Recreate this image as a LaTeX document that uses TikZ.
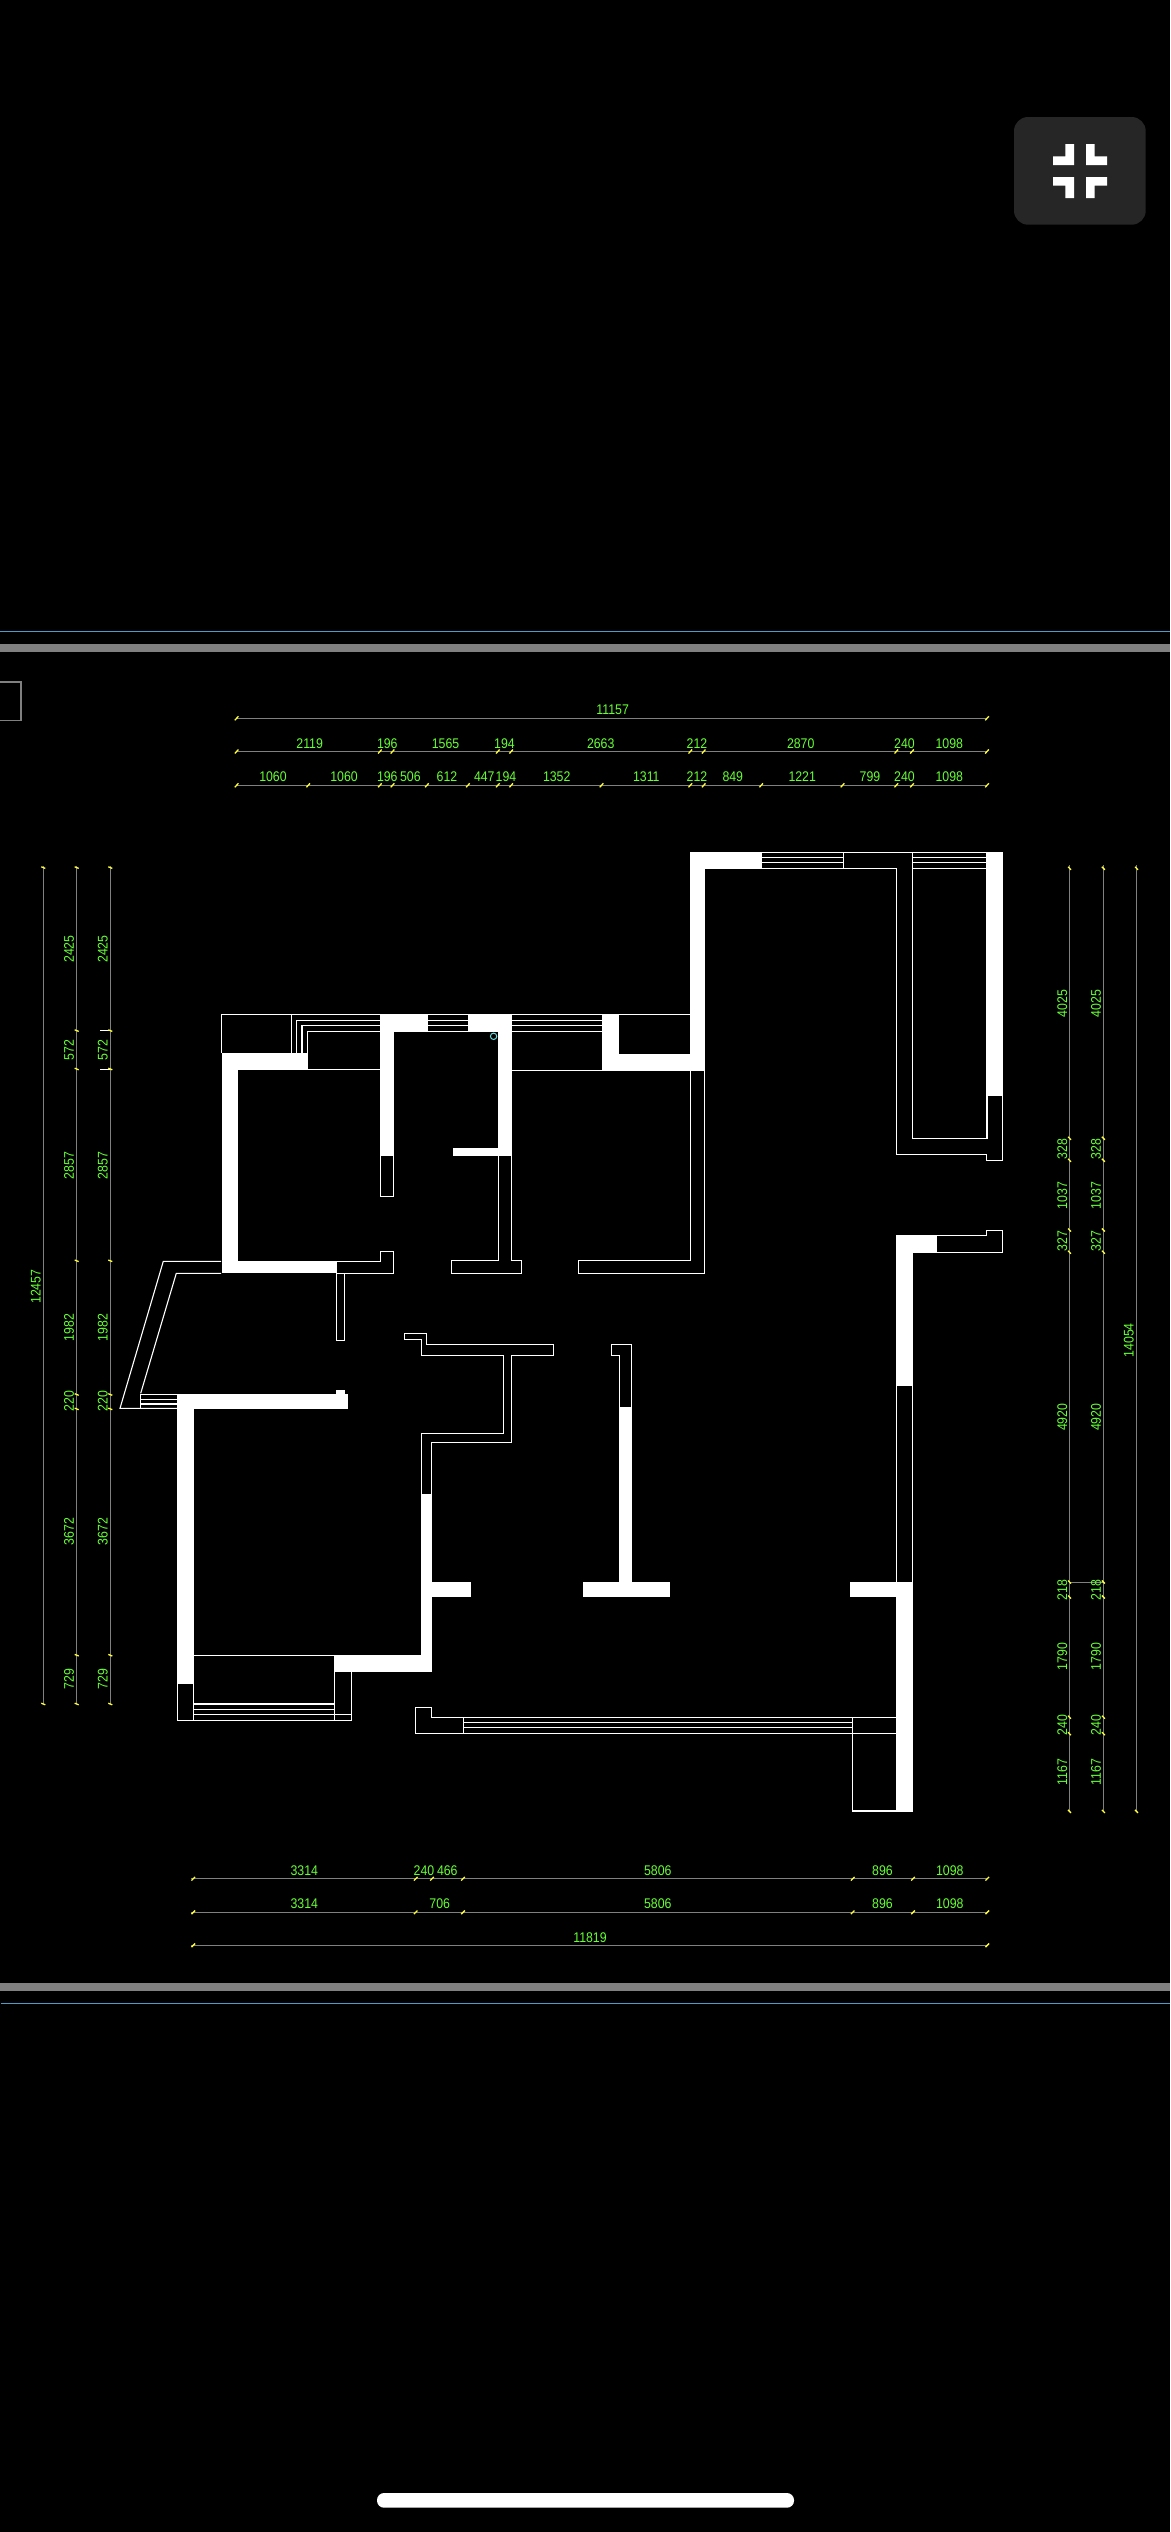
\documentclass[tikz,border=0pt]{standalone}
\usepackage{fontspec}
\newfontfamily\cadfont[FakeStretch=0.88]{Liberation Sans}
\definecolor{dimgrey}{HTML}{808080}
\definecolor{barblue}{HTML}{4F9BC8}
\definecolor{cadgreen}{HTML}{66FF33}
\definecolor{cadyellow}{HTML}{FFFF33}
\definecolor{btn}{HTML}{262626}
\definecolor{cadcyan}{HTML}{66DDDD}
\tikzset{
  wall/.style={fill=white,draw=none},
  ln/.style={draw=white,line width=1.1pt},
  dimln/.style={draw=dimgrey,line width=1.2pt},
  tickh/.style={draw=cadyellow,line width=1.3pt},
  dimtxt/.style={text=cadgreen,inner sep=0pt,font=\cadfont\fontsize{14}{15}\selectfont},
  dimtxtv/.style={dimtxt,rotate=90},
}
\begin{document}
\begin{tikzpicture}[x=1pt,y=-1pt]
\useasboundingbox (0,0) rectangle (1170,2532);
\fill[black] (0,0) rectangle (1170,2532);
% status button
\fill[btn,rounded corners=14pt] (1014,117) rectangle (1145.7,224.7);
\fill[white] (1065.3,144) -- (1074,144) -- (1074,165) -- (1053,165) -- (1053,156.3) -- (1065.3,156.3) -- cycle;
\fill[white] (1086,144) -- (1094.7,144) -- (1094.7,156.3) -- (1107,156.3) -- (1107,165) -- (1086,165) -- cycle;
\fill[white] (1053,177) -- (1074,177) -- (1074,198) -- (1065.3,198) -- (1065.3,185.7) -- (1053,185.7) -- cycle;
\fill[white] (1086,177) -- (1107,177) -- (1107,185.7) -- (1094.7,185.7) -- (1094.7,198) -- (1086,198) -- cycle;
% home indicator
\fill[white,rounded corners=7pt] (377,2493) rectangle (794,2507.7);
% frame bars
\draw[barblue,line width=1.2pt] (0,631.3) -- (1170,631.3);
\fill[dimgrey] (0,644) rectangle (1170,652);
\fill[dimgrey] (0,1983) rectangle (1170,1990.7);
\draw[barblue,line width=1.2pt] (1,2003.3) -- (1170,2003.3);
\draw[dimgrey,line width=1.1pt] (0,682) -- (21,682) -- (21,720.3) -- (0,720.3);
% ---------- white walls
\fill[wall] (221.8,1053) rectangle (307.9,1070);
\fill[wall] (221.8,1053) rectangle (237.9,1273.3);
\fill[wall] (221.8,1261) rectangle (337.1,1273.3);
\fill[wall] (380,1014.3) rectangle (393.9,1155.7);
\fill[wall] (380,1014.3) rectangle (427.5,1031.7);
\fill[wall] (467.9,1014.3) rectangle (512.1,1031.7);
\fill[wall] (497.9,1014.3) rectangle (512.1,1155.7);
\fill[wall] (452.9,1148) rectangle (512.1,1155.7);
\fill[wall] (602.1,1014.3) rectangle (618.6,1070);
\fill[wall] (602.1,1054) rectangle (705,1070.7);
\fill[wall] (690,852.3) rectangle (705,1070.7);
\fill[wall] (690,852.3) rectangle (761.7,868.7);
\fill[wall] (986,852.3) rectangle (1003,1096);
\fill[wall] (896,1235.3) rectangle (913,1385.8);
\fill[wall] (896,1235.3) rectangle (937,1252.7);
\fill[wall] (896,1582) rectangle (913,1812);
\fill[wall] (849.9,1582) rectangle (913,1597);
\fill[wall] (619.1,1406.9) rectangle (632,1582);
\fill[wall] (583,1582) rectangle (670.1,1597);
\fill[wall] (177,1394) rectangle (194,1683.7);
\fill[wall] (177,1394) rectangle (348,1409);
\fill[wall] (336,1390) rectangle (345,1394);
\fill[wall] (334,1655.3) rectangle (432,1672);
\fill[wall] (421.3,1494) rectangle (432,1672);
\fill[wall] (421.3,1582) rectangle (471,1597);
% ---------- thin lines: upper left block
\draw[ln] (221.8,1053) -- (221.8,1014.3) -- (380,1014.3);
\draw[ln] (291.8,1014.3) -- (291.8,1053);
\draw[ln] (296.8,1053) -- (296.8,1020.3) -- (380,1020.3);
\draw[ln] (302,1053) -- (302,1025.7) -- (380,1025.7);
\draw[ln] (307.9,1053) -- (307.9,1031.7) -- (380,1031.7);
\draw[ln] (307.9,1069.3) -- (380,1069.3);
\draw[ln] (427.5,1014.3) -- (467.9,1014.3) (427.5,1020.3) -- (467.9,1020.3) (427.5,1025.7) -- (467.9,1025.7) (427.5,1031.7) -- (467.9,1031.7);
\draw[ln] (512.1,1014.3) -- (602.1,1014.3) (512.1,1020.3) -- (602.1,1020.3) (512.1,1025.7) -- (602.1,1025.7) (512.1,1031.7) -- (602.1,1031.7);
\draw[ln] (512.1,1070.3) -- (602.1,1070.3);
\draw[ln] (618.6,1014.3) -- (690,1014.3);
\draw[ln] (380.4,1155.7) -- (380.4,1196.7) -- (393.6,1196.7) -- (393.6,1155.7);
\draw[ln] (690.7,1070.7) -- (690.7,1260.3) -- (578.2,1260.3) -- (578.2,1273.3) -- (704.3,1273.3) -- (704.3,1070.7);
\draw[ln] (498.2,1155.7) -- (498.2,1260.3) -- (451.8,1260.3) -- (451.8,1273.3) -- (521.8,1273.3) -- (521.8,1260.3) -- (511.4,1260.3) -- (511.4,1155.7);
\draw[ln] (337.1,1273.3) -- (393.6,1273.3) -- (393.6,1251.3) -- (380.4,1251.3) -- (380.4,1261.3) -- (337.1,1261.3);
\draw[ln] (336.8,1273.3) -- (336.8,1340.3) -- (344.6,1340.3) -- (344.6,1273.3);
% left stair
\draw[ln] (221,1261.3) -- (163.3,1261.3) -- (120,1408.3) -- (177,1408.3);
\draw[ln] (221,1273.3) -- (176.3,1273.3) -- (140.7,1393.3);
\draw[ln] (140.3,1394) -- (140.3,1408.3);
\draw[ln] (140.3,1394.3) -- (177,1394.3) (140.3,1399.3) -- (177,1399.3) (140.3,1404) -- (177,1404);
% middle passage
\draw[ln] (421.3,1494) -- (421.3,1433.3) -- (503.7,1433.3) -- (503.7,1355.5) -- (421.3,1355.5) -- (421.3,1339.3) -- (404.3,1339.3) -- (404.3,1333.3) -- (426.7,1333.3) -- (426.7,1344.3) -- (553.7,1344.3) -- (553.7,1355.5) -- (511.7,1355.5) -- (511.7,1442.3) -- (431.3,1442.3) -- (431.3,1494);
% T wall top
\draw[ln] (619.5,1406.9) -- (619.5,1355.2) -- (611.4,1355.2) -- (611.4,1344.1) -- (631.6,1344.1) -- (631.6,1406.9);
% lower left balcony
\draw[ln] (194,1655.3) -- (334,1655.3);
\draw[ln] (177.7,1683.7) -- (177.7,1720.3) -- (351.3,1720.3) -- (351.3,1672);
\draw[ln] (193.3,1683.7) -- (193.3,1720.3);
\draw[ln] (334.3,1672) -- (334.3,1720.3);
\draw[ln] (193.3,1704) -- (334.3,1704) (193.3,1709.3) -- (334.3,1709.3) (193.3,1714.3) -- (351.3,1714.3);
% bottom window
\draw[ln] (463.3,1717.3) -- (431.7,1717.3) -- (431.7,1707.3) -- (415.3,1707.3) -- (415.3,1733.3) -- (463.3,1733.3);
\draw[ln] (463.3,1717.3) -- (463.3,1733.3);
\draw[ln] (463.3,1717.3) -- (896,1717.3) (463.3,1733.3) -- (896,1733.3);
\draw[ln] (463.3,1722.3) -- (852.4,1722.3) (463.3,1727.3) -- (852.4,1727.3);
\draw[ln] (852.4,1717.3) -- (852.4,1811) -- (896,1811);
% right thin pier
\draw[ln] (896.6,1385.8) -- (896.6,1582) (912.5,1385.8) -- (912.5,1582);
% upper right block
\draw[ln] (761.7,852.3) -- (986,852.3);
\draw[ln] (761.7,857.3) -- (843.3,857.3) (761.7,862.3) -- (843.3,862.3);
\draw[ln] (761.7,868.3) -- (896.7,868.3) -- (896.7,1154.3) -- (986.3,1154.3) -- (986.3,1160.3) -- (1002.7,1160.3) -- (1002.7,1096);
\draw[ln] (843.3,852.3) -- (843.3,868.3);
\draw[ln] (987,1096) -- (987,1138.3) -- (912.3,1138.3) -- (912.3,852.3);
\draw[ln] (912.3,857.3) -- (986,857.3) (912.3,862.3) -- (986,862.3) (912.3,868.3) -- (986,868.3);
\draw[ln] (937,1235.3) -- (986.3,1235.3) -- (986.3,1230.3) -- (1002.7,1230.3) -- (1002.7,1252.3) -- (937,1252.3);
% marker
\draw[cadcyan,line width=1pt] (493.6,1036.3) circle (3.2);
% ---------- dimension lines: top
\coordinate (t1a) at (236.6,718.3); \coordinate (t1b) at (987,718.3);
\coordinate (t2a) at (236.6,751.5); \coordinate (t2b) at (987,751.5);
\coordinate (t3a) at (236.6,785.3); \coordinate (t3b) at (987,785.3);
\draw[dimln] (t1a) -- (t1b);
\draw[dimln] (t2a) -- (t2b);
\draw[dimln] (t3a) -- (t3b);
\foreach \x in {236.6,987} \draw[tickh] (\x,718.3) ++(-1.8,2) -- ++(3.6,-4);
\foreach \x in {236.6,379.9,392.5,497.8,511.2,690.3,703.7,896.3,912,987} \draw[tickh] (\x,751.5) ++(-1.8,2) -- ++(3.6,-4);
\foreach \x in {236.6,308.2,379.9,392.5,426.9,467.9,497.8,511.2,601.5,690.3,703.7,761.2,842.5,896.3,912,987} \draw[tickh] (\x,785.3) ++(-1.8,2) -- ++(3.6,-4);
\node[dimtxt] (toptotal) at (612.7,709.7) {11157};
\foreach \x/\t [count=\i] in {309.7/2119,387.3/196,445.5/1565,504.5/194,600.7/2663,697/212,800.7/2870,904.5/240,949.3/1098}
  \node[dimtxt] (rowb\i) at (\x,744) {\t};
\foreach \x/\t [count=\i] in {273/1060,344/1060,387.3/196,410.4/506,447/612,484.3/447,506/194,556.7/1352,646.3/1311,697/212,732.8/849,802.2/1221,870/799,904.5/240,949.3/1098}
  \node[dimtxt] (rowc\i) at (\x,777) {\t};
% ---------- dimension lines: bottom
\coordinate (b1a) at (190.5,1878.7); \coordinate (b1b) at (987.3,1878.7);
\coordinate (b2a) at (190.5,1912.3); \coordinate (b2b) at (987.3,1912.3);
\coordinate (b3a) at (190.5,1945.3); \coordinate (b3b) at (987.3,1945.3);
\draw[dimln] (b1a) -- (b1b);
\draw[dimln] (b2a) -- (b2b);
\draw[dimln] (b3a) -- (b3b);
\foreach \x in {193.3,415.7,432,463,852.7,913,987.3} \draw[tickh] (\x,1878.7) ++(-1.8,1.8) -- ++(3.6,-3.6);
\foreach \x in {193.3,415.7,463,852.7,913,987.3} \draw[tickh] (\x,1912.3) ++(-1.8,1.8) -- ++(3.6,-3.6);
\foreach \x in {193.3,987.3} \draw[tickh] (\x,1945.3) ++(-1.8,1.8) -- ++(3.6,-3.6);
\foreach \x/\t [count=\i] in {304.3/3314,424/240,447.3/466,657.8/5806,882.5/896,949.8/1098}
  \node[dimtxt] (rowd\i) at (\x,1870.7) {\t};
\foreach \x/\t [count=\i] in {304.3/3314,439.7/706,657.8/5806,882.5/896,949.8/1098}
  \node[dimtxt] (rowe\i) at (\x,1904) {\t};
\node[dimtxt] (bottotal) at (590,1937.7) {11819};
% ---------- dimension lines: left
\coordinate (l1a) at (43.3,866); \coordinate (l1b) at (43.3,1704);
\coordinate (l2a) at (76.7,866); \coordinate (l2b) at (76.7,1704);
\coordinate (l3a) at (110.3,866); \coordinate (l3b) at (110.3,1704);
\draw[dimln] (l1a) -- (l1b);
\draw[dimln] (l2a) -- (l2b);
\draw[dimln] (l3a) -- (l3b);
\draw[ln,line width=.8pt] (100,1030.6) -- (110.3,1030.6) (100,1069) -- (110.3,1069);
\foreach \y in {867.6,1704} \draw[tickh] (43.3,\y) ++(-2,-.8) -- ++(4,1.6);
\foreach \x in {76.7,110.3}
  \foreach \y in {867.6,1030.6,1069,1260.8,1394.5,1408.9,1655.2,1704}
    \draw[tickh] (\x,\y) ++(-2,-.8) -- ++(4,1.6);
\node[dimtxtv] (lefttotal) at (35.7,1286.6) {12457};
\foreach \y/\t [count=\i] in {949/2425,1050/572,1165.5/2857,1327.4/1982,1400.9/220,1531.7/3672,1679/729} {
  \node[dimtxtv] (lefta\i) at (69,\y) {\t};
  \node[dimtxtv] (leftb\i) at (102.7,\y) {\t};
}
% ---------- dimension lines: right
\coordinate (r1a) at (1069.5,865); \coordinate (r1b) at (1069.5,1811.4);
\coordinate (r2a) at (1103.4,865); \coordinate (r2b) at (1103.4,1811.4);
\coordinate (r3a) at (1136.5,865); \coordinate (r3b) at (1136.5,1811.4);
\draw[dimln] (r1a) -- (r1b);
\draw[dimln] (r2a) -- (r2b);
\draw[dimln] (r3a) -- (r3b);
\draw[dimln,line width=.8pt] (1069.5,1582) -- (1103.4,1582);
\foreach \y in {868.3,1811.4} \draw[tickh] (1136.5,\y) ++(-1.5,-1.5) -- ++(3,3);
\foreach \x in {1069.5,1103.4}
  \foreach \y in {868.3,1138.3,1160.3,1230,1252.2,1582,1597,1717.2,1733.7,1811.4}
    \draw[tickh] (\x,\y) ++(-1.5,-1.5) -- ++(3,3);
\node[dimtxtv] (righttotal) at (1128.9,1340.3) {14054};
\foreach \y/\t [count=\i] in {1003.3/4025,1149.3/328,1195.3/1037,1241/327,1417.2/4920,1589.8/218,1656.8/1790,1724.9/240,1772/1167} {
  \node[dimtxtv] (righta\i) at (1062.3,\y) {\t};
  \node[dimtxtv] (rightb\i) at (1096,\y) {\t};
}
\end{tikzpicture}
\end{document}
